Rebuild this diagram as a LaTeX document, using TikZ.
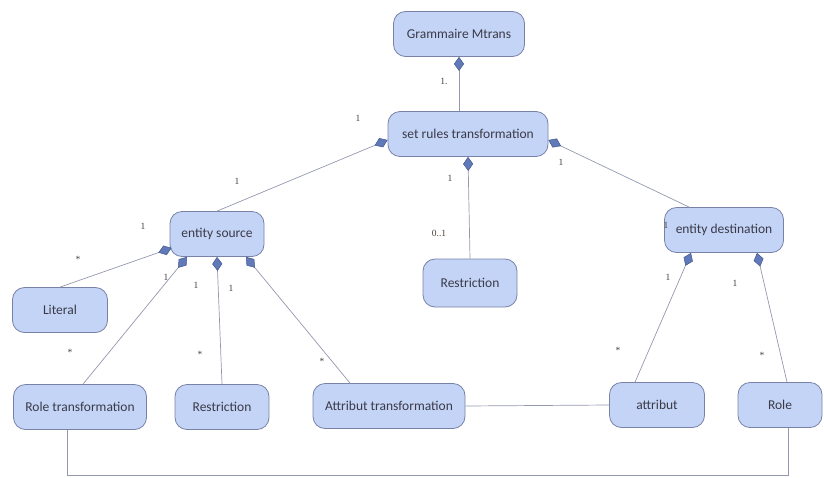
\documentclass[tikz,border=0pt]{standalone}
\usepackage{fontspec}
\setmainfont{Carlito}
\newfontfamily\labfont{Liberation Serif}
\usetikzlibrary{arrows.meta,calc}
\definecolor{boxfill}{HTML}{C4D4F6}
\definecolor{boxdraw}{HTML}{7882A6}
\definecolor{txtcol}{HTML}{3A3A48}
\definecolor{labcol}{HTML}{4A4038}
\definecolor{diafill}{HTML}{6079B8}
\definecolor{diadraw}{HTML}{45568C}
\definecolor{linecol}{HTML}{9498AE}
\tikzset{
  x=1pt,y=1pt,
  cls/.style={draw=boxdraw,fill=boxfill,rounded corners=12pt,line width=0.8pt,
    minimum height=45pt,inner sep=2pt,text=txtcol,font=\fontsize{13.5}{15}\selectfont},
  comp/.style={draw=linecol,line width=0.7pt,
    {Diamond[length=14pt,width=10pt,fill=diafill,color=diadraw,line width=0.5pt]}-},
  plain/.style={draw=linecol,line width=0.7pt},
  mult/.style={text=labcol,font=\labfont\fontsize{9.5}{10}\selectfont,inner sep=1pt}
}
\begin{document}
\begin{tikzpicture}
\useasboundingbox (0,0) rectangle (824,-477);
% classes
\node[cls,minimum width=131pt] (gm) at (459,-34) {Grammaire Mtrans};
\node[cls,minimum width=160pt] (sr) at (468,-134) {set rules transformation};
\node[cls,minimum width=94pt] (es) at (217,-234) {entity source};
\node[cls,minimum width=94pt,minimum height=48pt] (rm) at (470,-283) {Restriction};
\node[cls,minimum width=119pt] (ed) at (724,-230) {entity destination};
\node[cls,minimum width=95pt] (lit) at (60,-310) {Literal};
\node[cls,minimum width=133pt] (rt) at (80,-407) {Role transformation};
\node[cls,minimum width=94pt] (rb) at (222,-407) {Restriction};
\node[cls,minimum width=152pt] (at) at (389,-406) {Attribut transformation};
\node[cls,minimum width=95pt] (att) at (657,-405) {attribut};
\node[cls,minimum width=84pt] (role) at (780,-405) {Role};
% anchor points
\coordinate (srl) at ($(sr.west)+(0,-6)$);
\coordinate (srr) at ($(sr.east)+(0,-6)$);
\coordinate (edt) at ($(ed.north west)+(25,0)$);
\coordinate (esl) at ($(es.west)+(2,-14)$);
\coordinate (esb1) at ($(es.south)+(-30,0)$);
\coordinate (esb3) at ($(es.south)+(29,0)$);
\coordinate (rtt) at ($(rt.north)+(3,0)$);
\coordinate (att2) at ($(at.north)+(-39,0)$);
\coordinate (edb1) at ($(ed.south)+(-33,0)$);
\coordinate (edb2) at ($(ed.south)+(33,0)$);
\coordinate (attt) at ($(att.north)+(-22,0)$);
\coordinate (rolet) at ($(role.north)+(7,0)$);
\coordinate (rtb) at ($(rt.south)+(-13,0)$);
\coordinate (roleb) at ($(role.south)+(8,0)$);
\coordinate (bot) at (0,-475.5);
% connectors
\draw[comp] (gm.south) -- (gm.south |- sr.north);
\draw[comp] (srl) -- (es.north);
\draw[comp] (srr) -- (edt);
\draw[comp] (sr.south) -- (rm.north);
\draw[comp] (esl) -- (lit.north);
\draw[comp] (esb1) -- (rtt);
\draw[comp] (es.south) -- (rb.north);
\draw[comp] (esb3) -- (att2);
\draw[comp] (edb1) -- (attt);
\draw[comp] (edb2) -- (rolet);
\draw[plain] (at.east) -- (att.west);
\draw[plain] (rtb) -- (rtb |- bot) -| (roleb);
% multiplicities
\node[mult] (m1) at (444,-81) {1.};
\node[mult] (m2) at (358,-118) {1};
\node[mult] (m3) at (237,-181) {1};
\node[mult] (m4) at (561,-162) {1};
\node[mult] (m5) at (666,-225) {1};
\node[mult] (m6) at (450,-178) {1};
\node[mult] (m7) at (439,-233) {0..1};
\node[mult] (m8) at (143,-226) {1};
\node[mult] (m9) at (78,-259) {*};
\node[mult] (m10) at (166,-277) {1};
\node[mult] (m11) at (70,-352) {*};
\node[mult] (m12) at (196,-285) {1};
\node[mult] (m13) at (200,-354) {*};
\node[mult] (m14) at (231,-288) {1};
\node[mult] (m15) at (322,-361) {*};
\node[mult] (m16) at (668,-277) {1};
\node[mult] (m17) at (618,-350) {*};
\node[mult] (m18) at (735,-283) {1};
\node[mult] (m19) at (762,-355) {*};
\end{tikzpicture}
\end{document}
